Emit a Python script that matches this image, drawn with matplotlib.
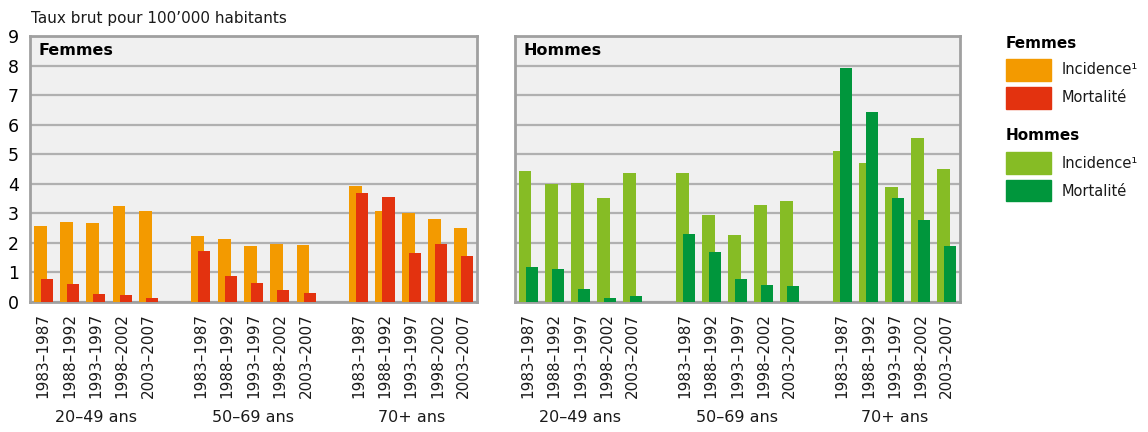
import matplotlib.pyplot as plt
import numpy as np
from matplotlib.patches import Rectangle
import matplotlib.transforms as mtransforms

# Crude rates per 100'000 inhabitants
periods = ['1983–1987', '1988–1992', '1993–1997', '1998–2002', '2003–2007']
age_groups = ['20–49 ans', '50–69 ans', '70+ ans']

femmes_incidence = [2.57, 2.71, 2.67, 3.25, 3.08,
                    2.23, 2.13, 1.89, 1.97, 1.93,
                    3.92, 3.08, 3.01, 2.81, 2.50]
femmes_mortalite = [0.78, 0.61, 0.27, 0.24, 0.14,
                    1.73, 0.88, 0.64, 0.41, 0.30,
                    3.69, 3.55, 1.66, 1.96, 1.56]
hommes_incidence = [4.43, 3.99, 4.03, 3.52, 4.36,
                    4.36, 2.94, 2.27, 3.28, 3.42,
                    5.11, 4.70, 3.89, 5.55, 4.50]
hommes_mortalite = [1.18, 1.12, 0.44, 0.14, 0.20,
                    2.30, 1.69, 0.78, 0.58, 0.54,
                    7.92, 6.43, 3.52, 2.77, 1.89]

orange = '#F39A00'
red = '#E3320F'
light_green = '#86BC25'
dark_green = '#00963C'
grid_gray = '#B0B0B0'
bg = '#F0F0F0'

plt.rcParams['font.family'] = ['DejaVu Sans']

fig = plt.figure(figsize=(11.48, 4.32), dpi=100)
ax_f = fig.add_axes([0.0261, 0.3009, 0.3894, 0.6157])
ax_h = fig.add_axes([0.4486, 0.3009, 0.3876, 0.6157])

# slot positions: 5 periods per age group, one empty slot between groups
pos = np.array([g * 6 + i for g in range(3) for i in range(5)])
group_centers = [g * 6 + 2 for g in range(3)]

panels = [(ax_f, 'Femmes', femmes_incidence, femmes_mortalite, orange, red),
          (ax_h, 'Hommes', hommes_incidence, hommes_mortalite, light_green, dark_green)]

for ax, name, inc, mort, c_inc, c_mort in panels:
    ax.set_facecolor(bg)
    ax.bar(pos - 0.115, inc, width=0.49, color=c_inc, zorder=3)
    ax.bar(pos + 0.135, mort, width=0.46, color=c_mort, zorder=4)
    ax.set_xlim(-0.5, 16.5)
    ax.set_ylim(0, 9)
    ax.set_yticks(range(10))
    ax.grid(axis='y', color=grid_gray, linewidth=1.6, zorder=1)
    ax.set_axisbelow(True)
    for s in ax.spines.values():
        s.set_color('#A0A0A0')
        s.set_linewidth(2)
    ax.set_xticks(pos)
    ax.set_xticklabels(periods * 3, rotation=90, fontsize=11, color='#1a1a1a')
    ax.tick_params(axis='x', length=0, pad=8)
    ax.tick_params(axis='y', length=0, pad=8, labelsize=12.5)
    ax.text(0.018, 0.947, name, transform=ax.transAxes, fontsize=11.5,
            fontweight='bold', va='center', ha='left')
    trans = mtransforms.blended_transform_factory(ax.transData, ax.transAxes)
    for xc, lab in zip(group_centers, age_groups):
        ax.text(xc, -0.435, lab, transform=trans, ha='center', va='center',
                fontsize=11.5, color='#1a1a1a')

ax_h.set_yticklabels([])

fig.text(0.027, 0.958, 'Taux brut pour 100’000 habitants', fontsize=11,
         ha='left', va='center', color='#1a1a1a')

# legend drawn by hand in figure coordinates
W, H = 1148, 432
legend_items = [
    ('Femmes', 43, None),
    ('Incidence¹', 70, orange),
    ('Mortalité', 98, red),
    ('Hommes', 135, None),
    ('Incidence¹', 163, light_green),
    ('Mortalité', 191, dark_green),
]
for text, yc, color in legend_items:
    if color is None:
        fig.text(1006 / W, 1 - yc / H, text, fontsize=11, fontweight='bold',
                 ha='left', va='center')
    else:
        fig.patches.append(Rectangle((1006 / W, 1 - (yc + 10.5) / H), 45 / W, 21 / H,
                                     transform=fig.transFigure, color=color))
        fig.text(1062 / W, 1 - yc / H, text, fontsize=10.5, ha='left', va='center',
                 color='#1a1a1a')

fig.savefig('out.png', dpi=100)
